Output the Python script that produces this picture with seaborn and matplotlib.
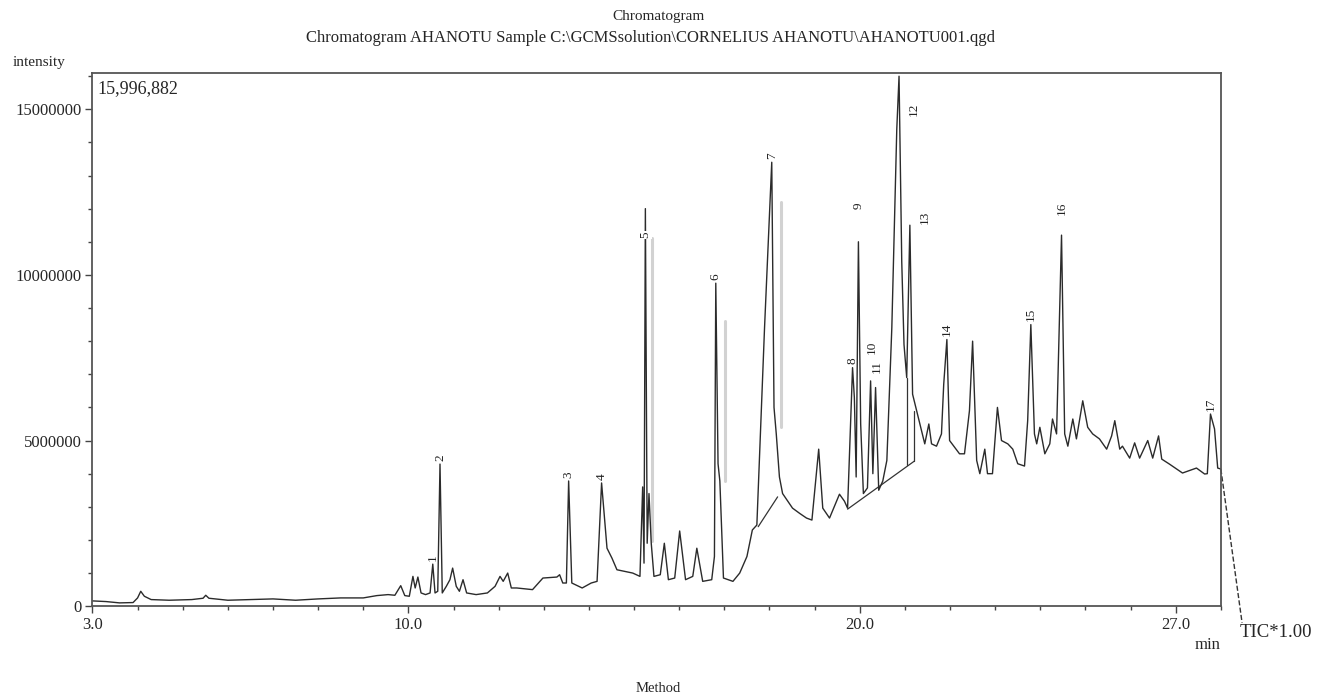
import pandas as pd
import seaborn as sns
import matplotlib.pyplot as plt
from matplotlib.ticker import MultipleLocator, FixedLocator

# TIC trace: retention time (min) and intensity (millions)
rt = [3.00, 3.30, 3.60, 3.90, 4.00, 4.07, 4.15, 4.30, 4.70, 5.20, 5.45, 5.51, 5.58,
      6.00, 6.50, 7.00, 7.50, 8.00, 8.50, 9.00, 9.30, 9.55, 9.70, 9.83, 9.92, 10.02,
      10.10, 10.15, 10.21, 10.28, 10.38, 10.48, 10.54, 10.59, 10.65, 10.70, 10.75,
      10.84, 10.92, 10.98, 11.06, 11.13, 11.21, 11.29, 11.50, 11.75, 11.92, 12.03,
      12.10, 12.20, 12.28, 12.40, 12.75, 12.98, 13.29, 13.35, 13.42, 13.50, 13.55,
      13.62, 13.85, 14.05, 14.18, 14.28, 14.40, 14.51, 14.62, 14.97, 15.13, 15.19,
      15.22, 15.25, 15.29, 15.33, 15.38, 15.44, 15.58, 15.67, 15.76, 15.90, 16.01,
      16.14, 16.30, 16.39, 16.52, 16.72, 16.78, 16.81, 16.86, 16.90, 16.98, 17.19,
      17.34, 17.50, 17.62, 17.72, 17.89, 18.05, 18.10, 18.15, 18.22, 18.29, 18.51,
      18.67, 18.82, 18.94, 19.00, 19.09, 19.18, 19.33, 19.55, 19.66, 19.73, 19.84,
      19.88, 19.92, 19.97, 20.02, 20.08, 20.17, 20.24, 20.29, 20.35, 20.42, 20.51,
      20.60, 20.71, 20.82, 20.87, 20.93, 20.98, 21.04, 21.11, 21.17, 21.26, 21.37,
      21.44, 21.53, 21.59, 21.70, 21.81, 21.86, 21.93, 21.99, 22.21, 22.32, 22.43,
      22.50, 22.59, 22.66, 22.77, 22.83, 22.94, 23.05, 23.14, 23.28, 23.39, 23.50,
      23.65, 23.72, 23.79, 23.87, 23.92, 23.99, 24.10, 24.21, 24.27, 24.36, 24.47,
      24.54, 24.61, 24.72, 24.80, 24.94, 25.05, 25.16, 25.31, 25.47, 25.58, 25.65,
      25.76, 25.82, 25.98, 26.09, 26.20, 26.38, 26.49, 26.62, 26.69, 26.86, 27.15,
      27.46, 27.64, 27.70, 27.77, 27.86, 27.93, 28.00]
intensity_m = [0.16, 0.14, 0.10, 0.11, 0.25, 0.45, 0.30, 0.20, 0.18, 0.20, 0.24, 0.33, 0.24,
               0.18, 0.20, 0.22, 0.18, 0.22, 0.25, 0.25, 0.32, 0.35, 0.33, 0.62, 0.32, 0.30,
               0.90, 0.55, 0.88, 0.40, 0.35, 0.40, 1.27, 0.40, 0.45, 4.29, 0.40,
               0.60, 0.80, 1.15, 0.60, 0.45, 0.80, 0.40, 0.35, 0.40, 0.60, 0.90,
               0.75, 1.00, 0.55, 0.55, 0.50, 0.85, 0.88, 0.95, 0.70, 0.70, 3.78,
               0.70, 0.55, 0.70, 0.75, 3.72, 1.75, 1.45, 1.10, 1.00, 0.90, 3.60,
               1.30, 12.00, 1.90, 3.40, 1.90, 0.90, 0.95, 1.90, 0.80, 0.85, 2.27,
               0.80, 0.90, 1.75, 0.75, 0.80, 1.50, 9.75, 4.30, 3.78, 0.85, 0.75,
               1.00, 1.50, 2.30, 2.45, 8.40, 13.40, 6.00, 5.20, 3.90, 3.40, 2.96,
               2.80, 2.66, 2.60, 3.47, 4.74, 2.96, 2.66, 3.38, 3.17, 2.96, 7.20,
               6.30, 3.90, 11.00, 5.50, 3.40, 3.57, 6.80, 4.00, 6.60, 3.50, 3.78,
               4.40, 8.40, 14.40, 15.997, 10.40, 7.90, 6.90, 11.50, 6.40, 5.90, 5.30,
               4.90, 5.50, 4.90, 4.83, 5.20, 6.70, 8.05, 5.00, 4.60, 4.60, 5.90,
               8.00, 4.40, 4.00, 4.74, 4.00, 4.00, 6.00, 5.00, 4.90, 4.74, 4.30,
               4.23, 5.60, 8.50, 5.20, 4.90, 5.40, 4.60, 4.90, 5.65, 5.20, 11.20,
               5.20, 4.83, 5.65, 5.05, 6.20, 5.40, 5.20, 5.05, 4.74, 5.14, 5.60,
               4.74, 4.83, 4.47, 4.93, 4.47, 5.00, 4.47, 5.14, 4.44, 4.29, 4.02,
               4.17, 3.99, 4.00, 5.80, 5.35, 4.17, 4.14]

# numbered peaks
peak_no = list(range(1, 18))
peak_rt = [10.54, 10.70, 13.55, 14.28, 15.25, 16.81, 18.05, 19.84, 19.97,
           20.24, 20.35, 20.87, 21.11, 21.93, 23.79, 24.47, 27.77]
peak_top_m = [1.27, 4.29, 3.78, 3.72, 12.00, 9.75, 13.40, 7.20, 11.00,
              6.80, 6.60, 15.997, 11.50, 8.05, 8.50, 11.20, 5.80]

df = pd.DataFrame({"rt": rt, "intensity": [v * 1e6 for v in intensity_m]})

sns.set_style("ticks")
plt.rcParams["font.family"] = ["Liberation Serif", "DejaVu Serif"]

fig = plt.figure(figsize=(13.17, 7.0), dpi=100)
ax = fig.add_axes([0.0702, 0.134, 0.8568, 0.762])

# integration marks (grey bars and baseline segments)
ax.plot([15.39, 15.39], [1.96e6, 11.1e6], color="#d2d2d2", lw=2.2)
ax.plot([17.01, 17.01], [3.78e6, 8.6e6], color="#d2d2d2", lw=2.2)
ax.plot([18.25, 18.25], [5.4e6, 12.2e6], color="#d2d2d2", lw=2.2)
ax.plot([17.75, 18.18], [2.4e6, 3.3e6], color="#333333", lw=0.9)
ax.plot([19.73, 21.21], [2.93e6, 4.38e6], color="#333333", lw=0.9)
ax.plot([21.04, 21.04], [4.25e6, 6.9e6], color="#333333", lw=0.9)
ax.plot([21.21, 21.21], [4.38e6, 5.9e6], color="#333333", lw=0.9)

sns.lineplot(data=df, x="rt", y="intensity", ax=ax, color="#2b2b2b", lw=1.0,
             estimator=None, sort=False)

# peak number labels
offsets = {5: (0, -0.9), 9: (0, 1.0), 10: (0.03, 0.8), 11: (0.03, 0.45),
           12: (0.33, -1.2), 13: (0.33, 0.05), 16: (0, 0.6)}
for n, x, y in zip(peak_no, peak_rt, peak_top_m):
    dx, dy = offsets.get(n, (0, 0.1))
    kw = {}
    if n == 5:
        kw["bbox"] = dict(facecolor="white", edgecolor="none", pad=0.5)
    ax.text(x + dx, (y + dy) * 1e6, str(n), rotation=90, ha="center", va="bottom",
            fontsize=9.5, color="#222222", **kw)

ax.set_xlim(3.0, 28.0)
ax.set_ylim(0, 16.1e6)
ax.xaxis.set_major_locator(FixedLocator([3.0, 10.0, 20.0, 27.0]))
ax.xaxis.set_minor_locator(MultipleLocator(1.0))
ax.set_xticklabels(["3.0", "10.0", "20.0", "27.0"])
ax.yaxis.set_minor_locator(MultipleLocator(1e6))
ax.set_yticks([0, 5e6, 10e6, 15e6])
ax.set_yticklabels(["0", "5000000", "10000000", "15000000"])
ax.tick_params(axis="both", which="major", direction="out", length=5, width=1,
               labelsize=12, color="#444444", pad=3)
ax.tick_params(axis="both", which="minor", direction="out", length=3, width=1,
               color="#444444")
ax.set_xlabel("")
ax.set_ylabel("")
for s in ax.spines.values():
    s.set_visible(True)
    s.set_color("#555555")
    s.set_linewidth(1.3)

ax.text(0.004, 0.971, "15,996,882", transform=ax.transAxes, ha="left", va="center",
        fontsize=13)

# dashed TIC leader going out of the box
ax.plot([28.0, 28.47], [4.14e6, -0.5e6], ls="--", color="#333333", lw=1.0, clip_on=False)

fig.text(0.5, 0.976, "Chromatogram", ha="center", va="center", fontsize=11)
fig.text(0.494, 0.946,
         "Chromatogram AHANOTU Sample C:\\GCMSsolution\\CORNELIUS AHANOTU\\AHANOTU001.qgd",
         ha="center", va="center", fontsize=12)
fig.text(0.0099, 0.911, "intensity", ha="left", va="center", fontsize=11)
fig.text(0.917, 0.079, "min", ha="center", va="center", fontsize=12)
fig.text(0.9415, 0.097, "TIC*1.00", ha="left", va="center", fontsize=13.5)
fig.text(0.5, 0.017, "Method", ha="center", va="center", fontsize=10.5)

fig.savefig("out.png", dpi=100)
